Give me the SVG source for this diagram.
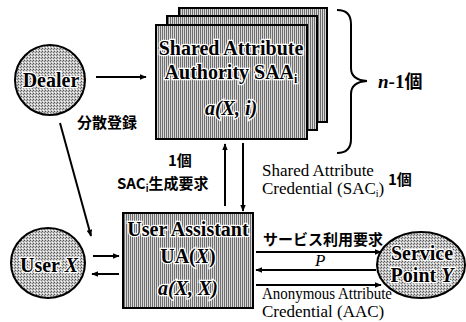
<svg xmlns="http://www.w3.org/2000/svg" width="466" height="322" viewBox="0 0 466 322">
<defs>
<pattern id="stripe" width="2" height="2" patternUnits="userSpaceOnUse">
<rect width="2" height="2" fill="#d8d8d8"/>
<rect width="1" height="2" fill="#6e6e6e"/>
</pattern>
<pattern id="dots" width="3" height="3" patternUnits="userSpaceOnUse">
<rect width="3" height="3" fill="#c4c4c4"/>
<rect width="1" height="1" fill="#555"/>
<rect x="2" y="1" width="1" height="1" fill="#777"/>
<rect x="1" y="2" width="1" height="1" fill="#ffffff"/>
</pattern>
<marker id="ah" viewBox="0 0 10 10" refX="9" refY="5" markerWidth="7" markerHeight="7" orient="auto" markerUnits="userSpaceOnUse">
<path d="M0,1 L10,5 L0,9 Z" fill="#000"/>
</marker>
</defs>
<style>
.box{fill:url(#stripe);stroke:#000;stroke-width:2}
.node{fill:url(#dots);stroke:#000;stroke-width:2}
.nt{font-family:"Liberation Serif",serif;font-weight:bold;font-size:20px;fill:#000;stroke:#fff;stroke-width:2.5;paint-order:stroke;text-anchor:middle}
.lbl{font-family:"Liberation Serif",serif;font-size:17px;fill:#000}
.jp{font-family:"Noto Sans CJK JP","Noto Sans CJK SC",sans-serif;font-weight:bold;font-size:15px;fill:#000}
.ln{stroke:#000;stroke-width:2;fill:none}
</style>
<g id="dealer">
<circle class="node" cx="50" cy="80" r="35"/>
<text class="nt" x="51" y="87">Dealer</text>
</g>
<g id="saa">
<rect class="box" x="179" y="8" width="148" height="114"/>
<rect class="box" x="167" y="16" width="150" height="114"/>
<rect class="box" x="156" y="25" width="151" height="114"/>
<text class="nt" x="231" y="55">Shared Attribute</text>
<text class="nt" x="231" y="79">Authority SAA<tspan font-size="12" dy="4">i</tspan></text>
<text class="nt" x="231" y="115" font-style="italic">a(X, i)</text>
</g>
<g id="user">
<ellipse class="node" cx="48" cy="263" rx="37" ry="35"/>
<text class="nt" x="49" y="272">User <tspan font-style="italic">X</tspan></text>
</g>
<g id="ua">
<rect class="box" x="123" y="213" width="130" height="95"/>
<text class="nt" x="188" y="236">User Assistant</text>
<text class="nt" x="188" y="263">UA(<tspan font-style="italic">X</tspan>)</text>
<text class="nt" x="188" y="295" font-style="italic">a(X, X)</text>
</g>
<g id="sp">
<ellipse class="node" cx="421" cy="265" rx="44" ry="33"/>
<text class="nt" x="422" y="260" font-size="21">Service</text>
<text class="nt" x="422" y="282" font-size="21">Point <tspan font-style="italic">Y</tspan></text>
</g>
<g id="connectors">
<line class="ln" x1="96" y1="77" x2="146" y2="77" marker-end="url(#ah)"/>
<line class="ln" x1="60" y1="123" x2="91" y2="236" marker-end="url(#ah)"/>
<line class="ln" x1="93" y1="256" x2="119" y2="256" marker-end="url(#ah)"/>
<line class="ln" x1="119" y1="274" x2="92" y2="274" marker-end="url(#ah)"/>
<line class="ln" x1="225" y1="206" x2="225" y2="144" marker-end="url(#ah)"/>
<line class="ln" x1="243" y1="143" x2="243" y2="211" marker-end="url(#ah)"/>
<line class="ln" x1="256" y1="252" x2="381" y2="252" marker-end="url(#ah)"/>
<line class="ln" x1="376" y1="270" x2="256" y2="270" marker-end="url(#ah)"/>
<line class="ln" x1="256" y1="285" x2="381" y2="285" marker-end="url(#ah)"/>
<path class="ln" stroke-width="1.5" d="M337,10 Q351,10 351,24 L351,68 Q351,80 367,81 Q351,82 351,94 L351,139 Q351,153 337,153"/>
</g>
<g id="labels">
<text x="378" y="88" font-family="Liberation Serif,serif" font-weight="bold" font-size="19"><tspan font-style="italic">n</tspan>-1<tspan font-family="Noto Sans CJK JP,sans-serif" font-size="18">個</tspan></text>
<text class="jp" x="77" y="128">分散登録</text>
<text class="jp" x="168" y="166" font-size="9">1個</text>
<text class="jp" x="117" y="189">SAC<tspan font-size="9" dy="3">i</tspan><tspan dy="-3">生成要求</tspan></text>
<text class="lbl" x="262" y="176">Shared Attribute</text>
<text class="lbl" x="262" y="194">Credential (SAC<tspan font-size="10" dy="3">i</tspan><tspan dy="-3">)</tspan></text>
<text class="jp" x="388" y="185" font-size="9">1個</text>
<text class="jp" x="263" y="245">サービス利用要求</text>
<text class="lbl" x="315" y="266" font-style="italic">P</text>
<text class="lbl" x="262" y="299" font-size="16" textLength="130" lengthAdjust="spacingAndGlyphs">Anonymous Attribute</text>
<text class="lbl" x="262" y="317" font-size="16">Credential (AAC)</text>
</g>
</svg>
